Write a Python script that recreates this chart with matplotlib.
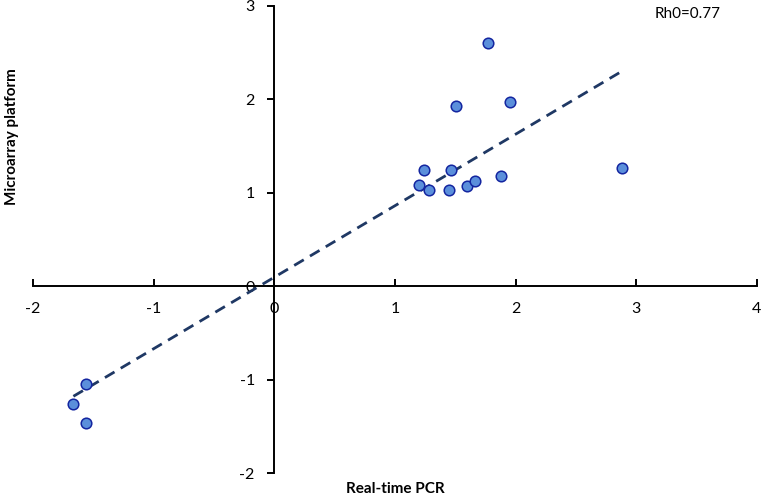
import matplotlib
matplotlib.use("Agg")
import matplotlib.pyplot as plt
import numpy as np

# real-time PCR vs microarray fold changes
pcr = [1.767, 1.505, 1.955, 1.237, 1.466, 1.201, 1.279, 1.450, 1.599,
       1.660, 1.878, 2.880, -1.560, -1.665, -1.560]
microarray = [2.60, 1.93, 1.975, 1.24, 1.24, 1.083, 1.03, 1.027, 1.073,
              1.126, 1.184, 1.262, -1.04, -1.259, -1.458]
x_ticks = [-2, -1, 0, 1, 2, 3, 4]
y_ticks = [-2, -1, 0, 1, 2, 3]
rho_text = "Rh0=0.77"

plt.rcParams['font.family'] = ['Lato', 'DejaVu Sans']
plt.rcParams['axes.unicode_minus'] = False

fig = plt.figure(figsize=(7.65, 4.97), dpi=100)
ax = fig.add_axes([0.0431, 0.0477, 0.9464, 0.9403])

x = np.array(pcr)
y = np.array(microarray)
slope, intercept = np.polyfit(x, y, 1)
xs = np.array([x.min(), x.max()])
ax.plot(xs, slope * xs + intercept, color='#1F3864', lw=2.0,
        dashes=(4, 2.6), zorder=2)

ax.scatter(x, y, s=58, facecolor='#5B8FDB', edgecolor='#1426A0',
           linewidth=1.1, zorder=3)

ax.set_xlim(-2, 4)
ax.set_ylim(-2, 3)
ax.spines['left'].set_position(('data', 0))
ax.spines['bottom'].set_position(('data', 0))
ax.spines['top'].set_visible(False)
ax.spines['right'].set_visible(False)
for s in ('left', 'bottom'):
    ax.spines[s].set_linewidth(1.4)

ax.set_xticks(x_ticks)
ax.set_yticks(y_ticks)
ax.tick_params(axis='x', direction='in', length=5, width=1.4, pad=11,
               labelsize=11.5)
ax.tick_params(axis='y', direction='out', length=5, width=1.4, pad=9,
               labelsize=11.5)

fig.text(655 / 765, 1 - 14 / 497, rho_text, fontsize=11, ha='left',
         va='center')
fig.text(395 / 765, 1 - 489 / 497, "Real-time PCR", fontsize=11,
         fontweight='bold', ha='center', va='center')
fig.text(12 / 765, 1 - 137 / 497, "Microarray platform", fontsize=11,
         fontweight='bold', ha='center', va='center', rotation=90)

fig.savefig("out.png", dpi=100)
